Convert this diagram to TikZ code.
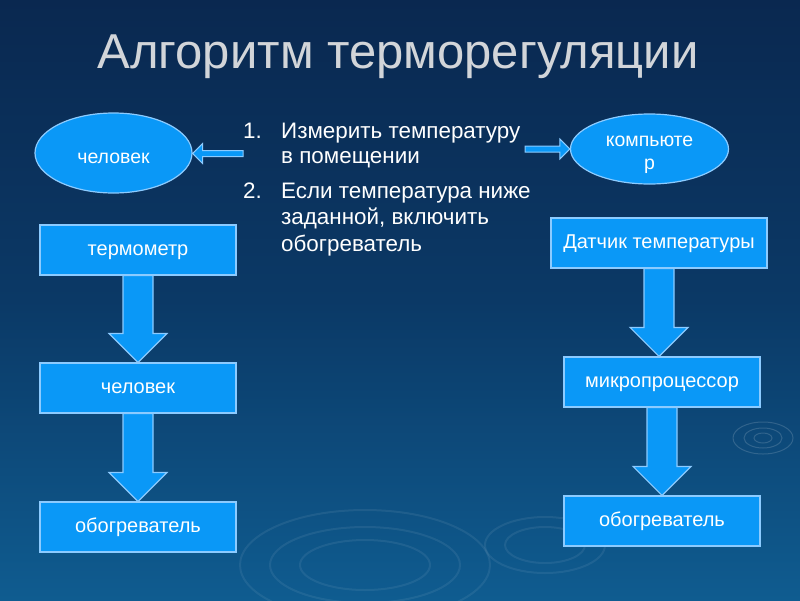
\documentclass[tikz,border=0pt]{standalone}
\usepackage{fontspec}
\setmainfont{Liberation Sans}
\usetikzlibrary{calc,shapes.geometric}
\definecolor{bgtop}{HTML}{0A2850}
\definecolor{bgmid}{HTML}{0B3966}
\definecolor{bgbot}{HTML}{0F5C90}
\definecolor{boxfill}{HTML}{0A98F7}
\definecolor{boxline}{HTML}{8CCBFF}
\definecolor{titlecol}{HTML}{D2D5D9}
\tikzset{
  box/.style={draw=boxline, line width=1.2pt, fill=boxfill, text=white, minimum width=196pt, minimum height=50pt, inner sep=0pt, text height=10.4pt, text depth=0pt, font=\fontsize{20}{22}\selectfont},
  oval/.style={ellipse, draw=boxline, line width=1.2pt, fill=boxfill, inner sep=0pt},
  ovaltxt/.style={text=white, inner sep=0pt, align=center, font=\fontsize{19.5}{23}\selectfont},
  barrow/.style={draw=boxline, line width=1.2pt, fill=boxfill, line join=miter},
  listtxt/.style={anchor=base west, text=white, inner sep=0pt, font=\fontsize{22.4}{24}\selectfont},
  ring/.style={draw=white, opacity=0.07, line width=2pt},
}
\newcommand\blockdown[2]{%
  \draw[barrow] let \p1=(#1.south), \p2=(#2.north) in
    (\x1-15pt,\y1) -- (\x1+15pt,\y1) -- (\x1+15pt,\y2+29pt) -- (\x1+29pt,\y2+29pt) --
    (\x1,\y2) -- (\x1-29pt,\y2+29pt) -- (\x1-15pt,\y2+29pt) -- cycle;}
\newcommand\blockh[2]{%
  \draw[barrow, line width=1pt] let \p1=(#1), \p2=(#2), \n1={sign(\x2-\x1)} in
    (\x1,\y1+3pt) -- (\x2-\n1*10pt,\y1+3pt) -- (\x2-\n1*10pt,\y1+10pt) --
    (\x2,\y1) -- (\x2-\n1*10pt,\y1-10pt) -- (\x2-\n1*10pt,\y1-3pt) -- (\x1,\y1-3pt) -- cycle;}
\begin{document}
\begin{tikzpicture}[x=1pt,y=-1pt]
\useasboundingbox (0,0) rectangle (800,600);
\shade[top color=bgtop, bottom color=bgbot, middle color=bgmid] (0,0) rectangle (800,600);
% faint ripples
\draw[ring] (365,565) ellipse (125 and 55);
\draw[ring] (365,565) ellipse (95 and 38);
\draw[ring] (365,565) ellipse (65 and 25);
\draw[ring] (545,545) ellipse (60 and 28);
\draw[ring] (545,545) ellipse (40 and 18);
\draw[ring, opacity=0.15, line width=1pt] (763,438) ellipse (30 and 16);
\draw[ring, opacity=0.15, line width=1pt] (763,438) ellipse (19 and 10);
\draw[ring, opacity=0.15, line width=1pt] (763,438) ellipse (9 and 5);
% title
\node[anchor=base, text=titlecol, font=\fontsize{49}{52}\selectfont, inner sep=0pt] (title) at (398,68) {Алгоритм терморегуляции};
% ovals
\node[oval, minimum width=157pt, minimum height=80pt] (man) at (113.5,153) {};
\node[ovaltxt, anchor=base] (mantxt) at (113.5,163) {человек};
\node[oval, minimum width=158pt, minimum height=70pt] (pc) at (649.5,149) {};
\node[ovaltxt, anchor=base] (pctxt1) at (649.5,146) {компьюте};
\node[ovaltxt, anchor=base] (pctxt2) at (649.5,169) {р};
\coordinate (la) at (243,153.5);
\coordinate (ra) at (525,149);
\blockh{la}{man.east}
\blockh{ra}{pc.west}
% list
\node[listtxt] (n1) at (243,138) {1.};
\node[listtxt] (t1) at (281,138) {Измерить температуру};
\node[listtxt] (t2) at (281,163) {в помещении};
\node[listtxt] (n2) at (243,198) {2.};
\node[listtxt] (t3) at (281,198) {Если температура ниже};
\node[listtxt] (t4) at (281,224.5) {заданной, включить};
\node[listtxt] (t5) at (281,251) {обогреватель};
% left column
\node[box] (l1) at (138,250) {термометр};
\node[box] (l2) at (138,388) {человек};
\node[box] (l3) at (138,527) {обогреватель};
\blockdown{l1}{l2}
\blockdown{l2}{l3}
% right column
\node[box, minimum width=216pt] (r1) at (659,243) {Датчик температуры};
\node[box] (r2) at (662,382) {микропроцессор};
\node[box] (r3) at (662,521) {обогреватель};
\blockdown{r1}{r2}
\blockdown{r2}{r3}
\end{tikzpicture}
\end{document}
